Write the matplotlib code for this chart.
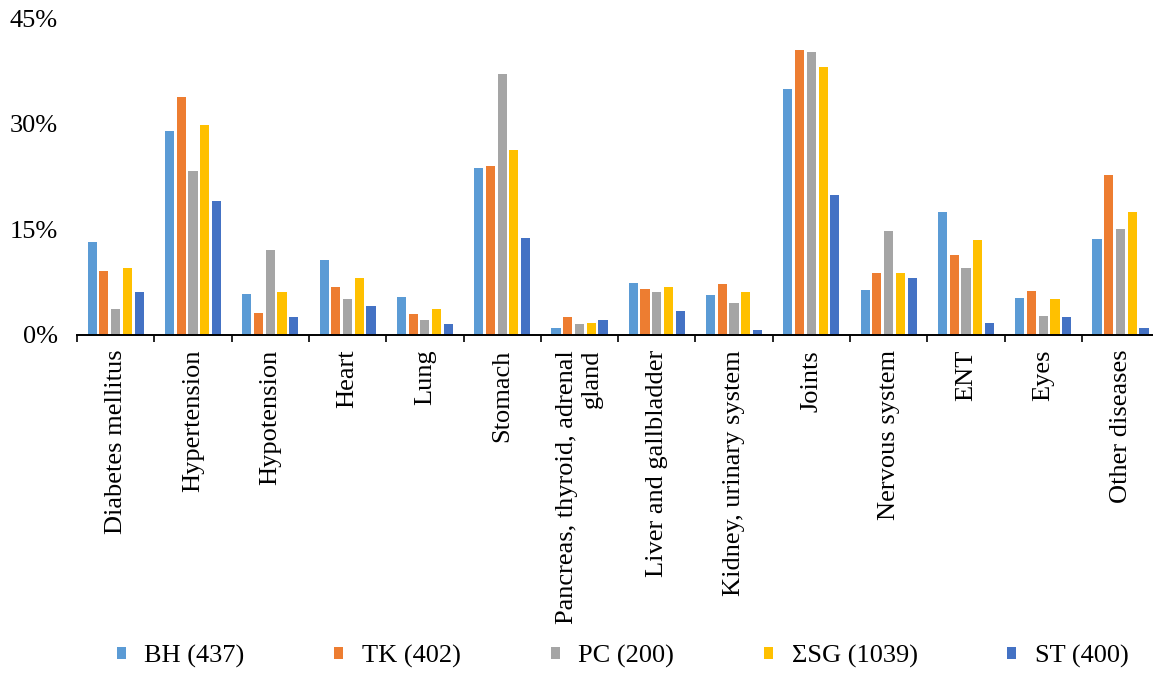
import numpy as np
import matplotlib
matplotlib.use("Agg")
import matplotlib.pyplot as plt
from matplotlib.ticker import FixedLocator, FuncFormatter

# disease groups along the x axis
categories = [
    "Diabetes mellitus", "Hypertension", "Hypotension", "Heart", "Lung",
    "Stomach", "Pancreas, thyroid, adrenal\ngland", "Liver and gallbladder",
    "Kidney, urinary system", "Joints", "Nervous system", "ENT", "Eyes",
    "Other diseases",
]

# share of patients per group (%)
bh = [13.1, 29.0, 5.7, 10.6, 5.3, 23.7, 0.9, 7.4, 5.6, 35.0, 6.4, 17.5, 5.2, 13.6]
tk = [9.0, 33.8, 3.0, 6.7, 2.9, 24.0, 2.5, 6.5, 7.2, 40.5, 8.8, 11.3, 6.2, 22.7]
pc = [3.6, 23.2, 12.0, 5.0, 2.0, 37.1, 1.5, 6.0, 4.5, 40.2, 14.7, 9.5, 2.6, 15.0]
sg = [9.5, 29.8, 6.0, 8.0, 3.7, 26.2, 1.6, 6.8, 6.0, 38.0, 8.8, 13.5, 5.0, 17.5]
st = [6.0, 19.0, 2.5, 4.0, 1.5, 13.7, 2.0, 3.3, 0.7, 19.8, 8.0, 1.6, 2.5, 1.0]

series = [bh, tk, pc, sg, st]
names = ["BH (437)", "TK (402)", "PC (200)", "\u03a3SG (1039)", "ST (400)"]
colors = ["#5B9BD5", "#ED7D31", "#A5A5A5", "#FFC000", "#4472C4"]

plt.rcParams["font.family"] = ["Liberation Serif", "DejaVu Serif"]
plt.rcParams["font.size"] = 19

fig = plt.figure(figsize=(11.53, 6.75), dpi=100)
ax = fig.add_axes([0.0668, 0.5044, 0.9332, 0.4686])

x = np.arange(len(categories))
step = 0.152
width = 0.118
for i, (vals, name, col) in enumerate(zip(series, names, colors)):
    ax.bar(x + (i - 2) * step, vals, width, color=col, label=name, zorder=2)

ax.set_xlim(-0.5, 13.42)
ax.set_ylim(0, 45)
ax.set_yticks([0, 15, 30, 45])
ax.yaxis.set_major_formatter(FuncFormatter(lambda v, p: "%d%%" % v))
ax.tick_params(axis="y", length=0, pad=14)

# labels at group centres, small tick marks between groups
ax.set_xticks(x)
ax.set_xticklabels(categories, rotation=90, va="top", ha="center",
                   multialignment="right")
ax.tick_params(axis="x", which="major", length=0, pad=11)
ax.xaxis.set_minor_locator(FixedLocator(np.arange(-0.5, 14, 1.0)))
ax.tick_params(axis="x", which="minor", length=5, width=1.2, direction="out",
               color="black")

for side in ["left", "right", "top"]:
    ax.spines[side].set_visible(False)
ax.spines["bottom"].set_linewidth(1.4)
ax.spines["bottom"].set_color("black")

fig.legend(loc="center", bbox_to_anchor=(0.54, 0.028), ncol=5, frameon=False,
           handlelength=0.35, handleheight=0.35, handletextpad=0.7,
           columnspacing=3.4, fontsize=19)

fig.savefig("out.png", dpi=100)
